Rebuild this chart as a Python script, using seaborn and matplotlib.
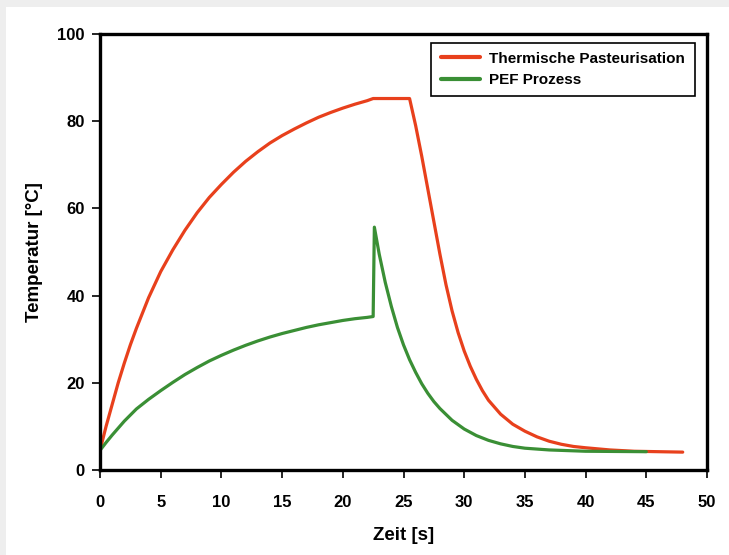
import seaborn as sns
import pandas as pd
import matplotlib.pyplot as plt
from matplotlib.patches import Rectangle

# Temperature profiles
therm_t = [0, 0.5, 1, 1.5, 2, 2.5, 3, 4, 5, 6, 7, 8, 9, 10, 11, 12, 13, 14, 15, 16, 17,
           18, 19, 20, 21, 22, 22.5, 25.5, 26, 26.5, 27, 27.5, 28, 28.5, 29, 29.5, 30,
           30.5, 31, 31.5, 32, 33, 34, 35, 36, 37, 38, 39, 40, 42, 44, 46, 48]
therm_temp = [4.5, 10, 15, 20, 24.5, 28.7, 32.5, 39.5, 45.5, 50.5, 55, 59, 62.5, 65.5,
              68.3, 70.8, 73, 75, 76.7, 78.2, 79.6, 80.9, 82, 83, 83.9, 84.7, 85.2, 85.2,
              79, 72, 64.5, 57, 49.5, 42.5, 36.5, 31.5, 27.3, 23.8, 20.8, 18.2, 16,
              12.8, 10.5, 8.9, 7.6, 6.6, 5.9, 5.4, 5.1, 4.6, 4.3, 4.2, 4.1]

pef_t = [0, 0.5, 1, 2, 3, 4, 5, 6, 7, 8, 9, 10, 11, 12, 13, 14, 15, 16, 17, 18, 19, 20,
         21, 22, 22.5, 22.6, 23, 23.5, 24, 24.5, 25, 25.5, 26, 26.5, 27, 27.5, 28, 29,
         30, 31, 32, 33, 34, 35, 37, 40, 45]
pef_temp = [4.5, 6.3, 8, 11.2, 14, 16.2, 18.2, 20.1, 21.9, 23.5, 25, 26.3, 27.5, 28.6,
            29.6, 30.5, 31.3, 32, 32.7, 33.3, 33.8, 34.3, 34.7, 35, 35.2, 55.7, 49.5, 43,
            37.5, 32.7, 28.7, 25.3, 22.4, 19.8, 17.6, 15.7, 14.1, 11.4, 9.4, 7.9, 6.8,
            6, 5.4, 5.0, 4.6, 4.3, 4.2]

labels = ['Thermische Pasteurisation', 'PEF Prozess']
colors = ['#e8401c', '#3a8f35']

df = pd.concat([
    pd.DataFrame({'Zeit': therm_t, 'Temperatur': therm_temp, 'Prozess': labels[0]}),
    pd.DataFrame({'Zeit': pef_t, 'Temperatur': pef_temp, 'Prozess': labels[1]}),
])

sns.set_style('ticks')
plt.rcParams['font.family'] = ['Liberation Sans', 'DejaVu Sans']
plt.rcParams['font.weight'] = 'bold'
plt.rcParams['text.color'] = 'black'
plt.rcParams['axes.labelcolor'] = 'black'
plt.rcParams['xtick.color'] = 'black'
plt.rcParams['ytick.color'] = 'black'

fig = plt.figure(figsize=(7.29, 5.55), dpi=100, facecolor='#eeeeee')
# white card on the grey page
fig.patches.append(Rectangle((6 / 729, 0), 1, (555 - 7) / 555, transform=fig.transFigure,
                             facecolor='white', edgecolor='none', zorder=-1))
ax = fig.add_axes([100 / 729, (555 - 470) / 555, 607 / 729, 436 / 555])
ax.set_zorder(2)

sns.lineplot(data=df, x='Zeit', y='Temperatur', hue='Prozess', palette=colors,
             linewidth=2.3, sort=False, ax=ax)

ax.set_xlim(0, 50)
ax.set_ylim(0, 100)
ax.set_xticks(range(0, 51, 5))
ax.set_yticks(range(0, 101, 20))
ax.tick_params(direction='out', length=6, width=1.2, labelsize=12, colors='black')
ax.tick_params(axis='x', pad=12)
ax.tick_params(axis='y', pad=5)
for lab in ax.get_xticklabels() + ax.get_yticklabels():
    lab.set_fontweight('bold')
for s in ax.spines.values():
    s.set_visible(True)
    s.set_linewidth(2.4)
    s.set_color('black')

ax.set_xlabel('Zeit [s]', fontsize=13.5, fontweight='bold', labelpad=12, color='black')
ax.set_ylabel('Temperatur [°C]', fontsize=13.5, fontweight='bold', labelpad=10, color='black')

leg = ax.legend(loc='upper right', title=None, fontsize=11, frameon=True, fancybox=False,
                framealpha=1, handlelength=2.6, handletextpad=0.6, borderpad=0.6,
                labelspacing=0.5, bbox_to_anchor=(0.992, 0.998))
leg.get_frame().set_edgecolor('black')
leg.get_frame().set_linewidth(1.2)
for t in leg.get_texts():
    t.set_fontweight('bold')
    t.set_color('black')
for ln in leg.get_lines():
    ln.set_linewidth(3)

fig.savefig('out.png', dpi=100, facecolor=fig.get_facecolor())
